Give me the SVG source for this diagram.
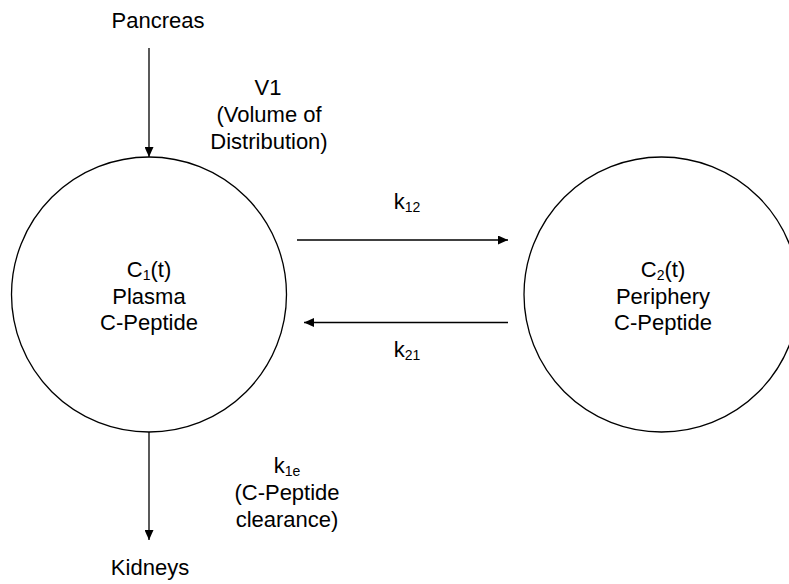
<svg xmlns="http://www.w3.org/2000/svg" width="789" height="584" viewBox="0 0 789 584">
<style>
text{font-family:"Liberation Sans",Arial,sans-serif;font-size:22px;fill:#000;text-anchor:middle}
.sub{font-size:14px}
.node{fill:#fff;stroke:#000;stroke-width:1.3}
.edge{stroke:#000;stroke-width:1.3;fill:none}
</style>
<defs>
<marker id="ah" markerWidth="10" markerHeight="9" refX="10" refY="4.5" orient="auto" markerUnits="userSpaceOnUse">
<path d="M0,0 L10,4.5 L0,9 Z" fill="#000"/>
</marker>
</defs>
<rect width="789" height="584" fill="#fff"/>
<g id="connectors">
<line class="edge" x1="149" y1="48" x2="149" y2="157" marker-end="url(#ah)"/>
<line class="edge" x1="297" y1="240" x2="508" y2="240" marker-end="url(#ah)"/>
<line class="edge" x1="508" y1="322.5" x2="304" y2="322.5" marker-end="url(#ah)"/>
<line class="edge" x1="149" y1="432" x2="149" y2="540" marker-end="url(#ah)"/>
<text x="268" y="95">V1</text>
<text x="269" y="122">(Volume of</text>
<text x="269" y="149">Distribution)</text>
<text x="407" y="209">k<tspan class="sub" dy="3">12</tspan></text>
<text x="407" y="357">k<tspan class="sub" dy="3">21</tspan></text>
<text x="287" y="473">k<tspan class="sub" dy="3">1e</tspan></text>
<text x="287" y="500">(C-Peptide</text>
<text x="287" y="527">clearance)</text>
</g>
<g id="pancreas"><text x="158" y="28">Pancreas</text></g>
<g id="plasma">
<circle class="node" cx="149" cy="294.5" r="137.5"/>
<text x="149" y="277">C<tspan class="sub" dy="3">1</tspan><tspan dy="-3">(t)</tspan></text>
<text x="149" y="303.5">Plasma</text>
<text x="149" y="330">C-Peptide</text>
</g>
<g id="periphery">
<circle class="node" cx="661.5" cy="294.5" r="137.5"/>
<text x="663" y="277">C<tspan class="sub" dy="3">2</tspan><tspan dy="-3">(t)</tspan></text>
<text x="663" y="303.5">Periphery</text>
<text x="663" y="330">C-Peptide</text>
</g>
<g id="kidneys"><text x="150" y="575">Kidneys</text></g>
</svg>
